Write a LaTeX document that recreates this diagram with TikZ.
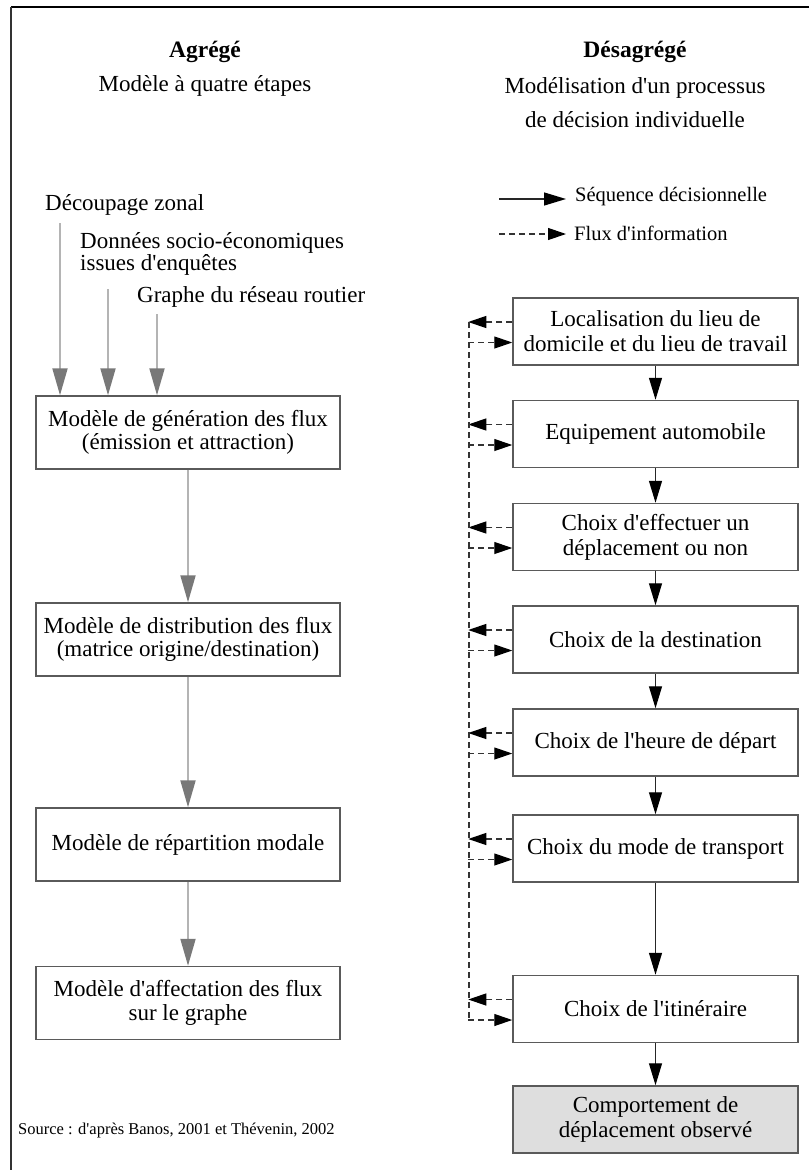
\documentclass[tikz,border=0pt]{standalone}
\usepackage{fontspec}
\setmainfont{Liberation Serif}[Ligatures=TeXOff]
\usetikzlibrary{arrows.meta,calc}
\definecolor{boxline}{HTML}{5A5A5A}
\definecolor{grayline}{HTML}{B4B4B4}
\definecolor{grayhead}{HTML}{787878}
\definecolor{endfill}{HTML}{DEDEDE}
\tikzset{
  txt/.style={font=\fontsize{23}{24}\selectfont, inner sep=0pt, align=center},
  legtxt/.style={font=\fontsize{20.5}{22}\selectfont, inner sep=0pt, anchor=west},
  lbox/.style={draw=boxline, line width=1.5pt, minimum width=304pt, minimum height=73pt, inner sep=0pt, align=center, font=\fontsize{23}{23.5}\selectfont},
  rbox/.style={draw=boxline, line width=1.5pt, minimum width=285pt, minimum height=67pt, inner sep=0pt, align=center, font=\fontsize{23}{25}\selectfont},
  grayarrow/.style={draw=grayline, line width=2pt, -{Triangle[length=27pt,width=15pt,color=grayhead]}},
  seqarrow/.style={draw=black!85, line width=1.3pt, -{Triangle[length=22pt,width=13pt,color=black]}},
  infoarrow/.style={draw=black!80, line width=1.2pt, dash pattern=on 6pt off 4pt, -{Triangle[length=18pt,width=12pt,color=black]}},
  infoline/.style={draw=black!80, line width=1.2pt, dash pattern=on 6pt off 4pt},
}
\begin{document}
\begin{tikzpicture}[x=1pt,y=-1pt]
\useasboundingbox (0,0) rectangle (809,1170);
% frame
\draw[line width=2pt] (809,7) -- (11,7);
\draw[line width=1.5pt, black!80] (11,7) -- (11,1170);

% titles
\node[txt, font=\fontsize{23.5}{24}\bfseries] (tl) at (205,52) {Agrégé};
\node[txt] (tl2) at (205,86) {Modèle à quatre étapes};
\node[txt, font=\fontsize{23.5}{24}\bfseries] (tr) at (635,52) {Désagrégé};
\node[txt, font=\fontsize{23}{34}\selectfont] (tr2) at (635,103) {Modélisation d'un processus\\de décision individuelle};

% legend
\coordinate (ls1) at (499,199);
\coordinate (le1) at (566,199);
\coordinate (ls2) at (499,234);
\coordinate (le2) at (566,234);
\draw[seqarrow] (ls1) -- (le1);
\draw[infoarrow] (ls2) -- (le2);
\node[legtxt] (lt1) at (575,197) {Séquence décisionnelle};
\node[legtxt] (lt2) at (574,233) {Flux d'information};

% left inputs
\node[txt, anchor=west] (in1) at (45,205) {Découpage zonal};
\node[txt, anchor=west, align=left, font=\fontsize{23}{22}\selectfont] (in2) at (80,254) {Données socio-économiques\\issues d'enquêtes};
\node[txt, anchor=west] (in3) at (137,297) {Graphe du réseau routier};

% left boxes
\node[lbox] (a1) at (188,432.5) {Modèle de génération des flux\\(émission et attraction)};
\node[lbox] (a2) at (188,639.5) {Modèle de distribution des flux\\(matrice origine/destination)};
\node[lbox] (a3) at (188,844.5) {Modèle de répartition modale};
\node[lbox] (a4) at (188,1003) {Modèle d'affectation des flux\\sur le graphe};

\coordinate (s1) at (60,223);
\coordinate (s2) at (108,289);
\coordinate (s3) at (157,314);
\draw[grayarrow] (s1) -- (s1 |- a1.north);
\draw[grayarrow] (s2) -- (s2 |- a1.north);
\draw[grayarrow] (s3) -- (s3 |- a1.north);
\draw[grayarrow] (a1.south) -- (a2.north);
\draw[grayarrow] (a2.south) -- (a3.north);
\draw[grayarrow] (a3.south) -- (a4.north);

% right boxes
\node[rbox] (b1) at (655.5,331.5) {Localisation du lieu de\\domicile et du lieu de travail};
\node[rbox] (b2) at (655.5,434) {Equipement automobile};
\node[rbox] (b3) at (655.5,537) {Choix d'effectuer un\\déplacement ou non};
\node[rbox] (b4) at (655.5,639.5) {Choix de la destination};
\node[rbox] (b5) at (655.5,742.5) {Choix de l'heure de départ};
\node[rbox] (b6) at (655.5,848.5) {Choix du mode de transport};
\node[rbox] (b7) at (655.5,1009) {Choix de l'itinéraire};
\node[rbox, fill=endfill] (b8) at (655.5,1119.5) {Comportement de\\déplacement observé};

\foreach \u/\v in {b1/b2,b2/b3,b3/b4,b4/b5,b5/b6,b6/b7,b7/b8}
  \draw[seqarrow] (\u.south) -- (\v.north);

% information feedback
\foreach \b in {b1,b2,b3,b4,b5,b6,b7}{
  \draw[infoarrow] ([yshift=9.5pt]\b.west) -- ($([yshift=9.5pt]\b.west)+(-44,0)$);
  \draw[infoarrow] ($([yshift=-11pt]\b.west)+(-44,0)$) -- ([yshift=-11pt]\b.west);
}
\coordinate (fbtop) at (469,322);
\coordinate (fbbot) at (469,1020);
\draw[infoline] (fbtop) -- (fbbot);

% source
\node[txt, anchor=west, font=\fontsize{16.5}{18}\selectfont] (src) at (18,1131) {Source : d'après Banos, 2001 et Thévenin, 2002};
\end{tikzpicture}
\end{document}
